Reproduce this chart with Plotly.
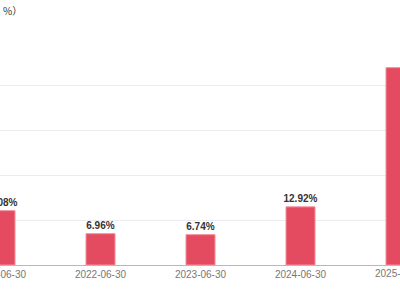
import plotly.graph_objects as go

categories = ["2021-06-30", "2022-06-30", "2023-06-30", "2024-06-30", "2025-06-30"]
values = [12.08, 6.96, 6.74, 12.92, 43.86]
labels = ["12.08%", "6.96%", "6.74%", "12.92%", "43.86%"]
unit_title = "（单位：%）"

fig = go.Figure(go.Bar(
    x=categories, y=values, text=labels, textposition="outside",
    constraintext="none",
    textfont=dict(size=10, color="#333333", family="Liberation Sans, Arial", weight="bold"),
    marker=dict(color="#E54B60", line=dict(color="#F2909C", width=1)),
    width=0.29, cliponaxis=False,
))

fig.update_layout(
    width=400, height=300,
    margin=dict(l=0, r=0, t=40, b=35, pad=0, autoexpand=False),
    plot_bgcolor="white", paper_bgcolor="white",
    showlegend=False,
    xaxis=dict(type="category", range=[-0.005, 3.995], showgrid=False, automargin=False,
               showline=True, linecolor="#B8B8B8", linewidth=1,
               ticks="", tickfont=dict(size=10, color="#777777", family="Liberation Sans, Arial"),
               fixedrange=True),
    yaxis=dict(range=[0, 50], dtick=10, showgrid=True, gridcolor="#EBEBF0", automargin=False,
               showticklabels=False, zeroline=False, fixedrange=True),
    annotations=[
        dict(text=unit_title, xref="paper", yref="paper", x=24/400, y=1, yshift=40-1,
             xanchor="right", yanchor="top", showarrow=False,
             font=dict(size=10, color="#333333", family="Noto Sans CJK SC")),
        dict(text=categories[4], xref="paper", yref="paper", x=401/400, y=0, yshift=-1,
             xanchor="center", yanchor="top", showarrow=False,
             font=dict(size=10, color="#777777", family="Liberation Sans, Arial")),
    ],
)

fig.write_html("out.html")
